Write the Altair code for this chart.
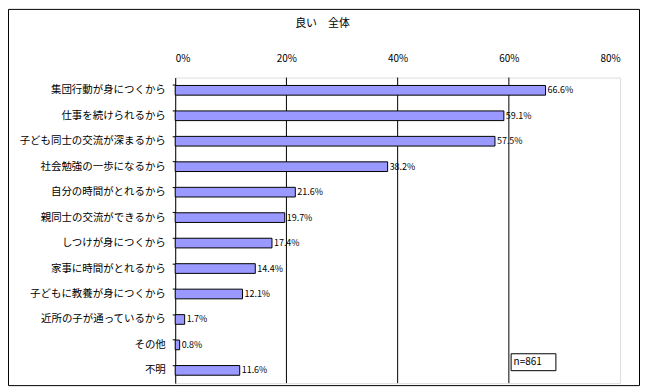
import altair as alt
import pandas as pd

categories = [
    "集団行動が身につくから",
    "仕事を続けられるから",
    "子ども同士の交流が深まるから",
    "社会勉強の一歩になるから",
    "自分の時間がとれるから",
    "親同士の交流ができるから",
    "しつけが身につくから",
    "家事に時間がとれるから",
    "子どもに教養が身につくから",
    "近所の子が通っているから",
    "その他",
    "不明",
]
values = [66.6, 59.1, 57.5, 38.2, 21.6, 19.7, 17.4, 14.4, 12.1, 1.7, 0.8, 11.6]
grid_values = [20, 40, 60]
title_text = "良い　全体"
note_text = "n=861"

W, H = 447, 307
FONT = "Noto Sans CJK JP"

df = pd.DataFrame({"cat": categories, "val": values,
                   "label": [f"{v}%" for v in values]})
gdf = pd.DataFrame({"g": grid_values})

xscale = alt.Scale(domain=[0, 80], nice=False)
yscale = alt.Scale(domain=categories, paddingInner=0.62, paddingOuter=0.31)

bars = alt.Chart(df).mark_bar(color="#9999FF", stroke="black", strokeWidth=1).encode(
    x=alt.X("val:Q", scale=xscale,
            axis=alt.Axis(orient="top", values=[0, 20, 40, 60, 80],
                          labelExpr="datum.value + '%'", title=None,
                          ticks=False, domain=False, grid=False,
                          labelPadding=14, labelFont=FONT, labelFontSize=10,
                          labelColor="black")),
    y=alt.Y("cat:N", scale=yscale, sort=categories,
            axis=alt.Axis(title=None, labelFont=FONT, labelFontSize=10.5,
                          labelColor="black", labelPadding=7,
                          domainColor="black", domainWidth=1,
                          tickColor="black", tickSize=3, bandPosition=0,
                          labelLimit=300)),
)

grid = alt.Chart(gdf).mark_rule(color="black", strokeWidth=1).encode(
    x=alt.X("g:Q", scale=xscale),
)

labels = alt.Chart(df).mark_text(align="left", baseline="middle", dx=2,
                                 font=FONT, fontSize=9, color="black").encode(
    x=alt.X("val:Q", scale=xscale),
    y=alt.Y("cat:N", scale=yscale, sort=categories),
    text="label:N",
)

frame = alt.Chart(pd.DataFrame({"a": [0]})).mark_rect(
    fill=None, stroke="black", strokeWidth=1).encode(
    x=alt.value(-167.5), x2=alt.value(466.5),
    y=alt.value(-68.5), y2=alt.value(309.5),
)

title = alt.Chart(pd.DataFrame({"t": [title_text]})).mark_text(
    font=FONT, fontSize=11, color="black", align="center", baseline="middle").encode(
    x=alt.value(148), y=alt.value(-54), text="t:N")

note_box = alt.Chart(pd.DataFrame({"a": [0]})).mark_rect(
    fill="white", stroke="black", strokeWidth=1).encode(
    x=alt.value(337.5), x2=alt.value(382.5),
    y=alt.value(277.5), y2=alt.value(294.5),
)
note = alt.Chart(pd.DataFrame({"t": [note_text]})).mark_text(
    font=FONT, fontSize=10, color="black", align="left", baseline="middle").encode(
    x=alt.value(340), y=alt.value(286), text="t:N")

chart = alt.layer(frame, grid, bars, labels, title, note_box, note).properties(
    width=W, height=H,
    padding={"left": 168, "top": 69, "right": 20, "bottom": 4},
    autosize=alt.AutoSizeParams(type="none"),
).configure_view(stroke="#808080", strokeWidth=1).configure(background="white")

chart.save("out.html", embed_options={"renderer": "svg", "actions": False})
